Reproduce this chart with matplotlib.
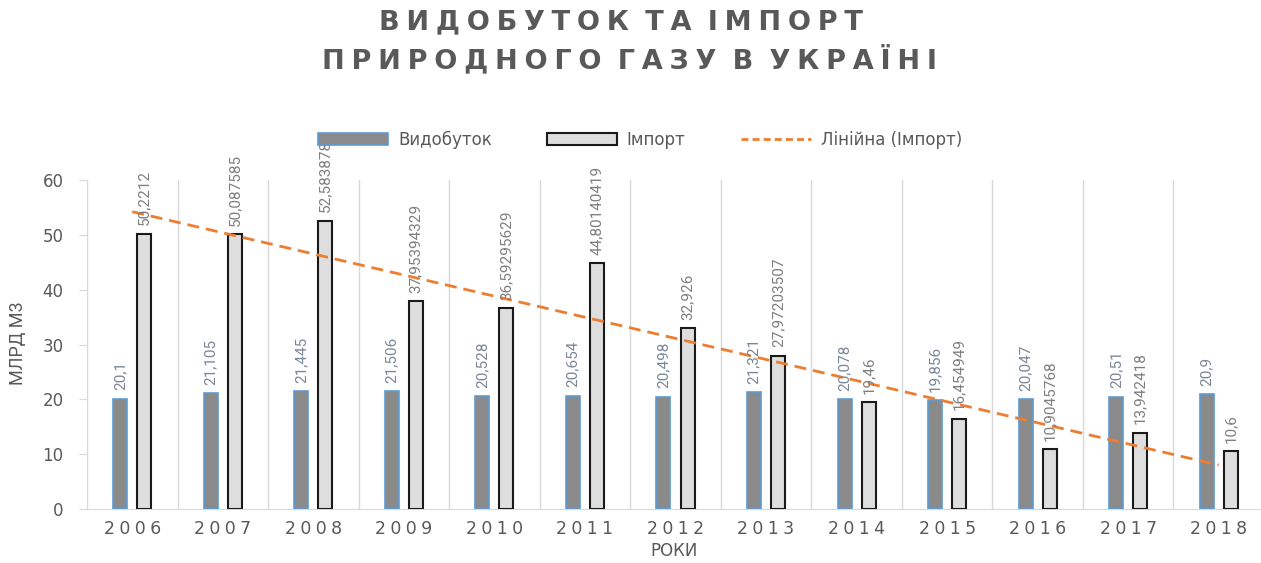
import matplotlib
matplotlib.use('Agg')
import matplotlib.pyplot as plt
import numpy as np
from matplotlib.patches import Patch
from matplotlib.lines import Line2D

years = ['2006', '2007', '2008', '2009', '2010', '2011', '2012',
         '2013', '2014', '2015', '2016', '2017', '2018']
production = [20.1, 21.105, 21.445, 21.506, 20.528, 20.654, 20.498,
              21.321, 20.078, 19.856, 20.047, 20.51, 20.9]
imports = [50.2212, 50.087585, 52.583878, 37.95394329, 36.59295629,
           44.80140419, 32.926, 27.97203507, 19.46, 16.454949,
           10.9045768, 13.942418, 10.6]
y_ticks = [0, 10, 20, 30, 40, 50, 60]

title_lines = ['ВИДОБУТОК ТА ІМПОРТ', 'ПРИРОДНОГО ГАЗУ В УКРАЇНІ']
legend_labels = ['Видобуток', 'Імпорт', 'Лінійна (Імпорт)']
y_label = 'МЛРД М3'
x_label = 'РОКИ'


def spaced(s, sep='\u2005', word_sep=' \u2005'):
    words = s.split(' ')
    return word_sep.join(sep.join(w) for w in words)


W, H = 1261, 563
fig = plt.figure(figsize=(W / 100, H / 100), dpi=100)
ax = fig.add_axes([87 / W, 1 - 509 / H, (1264 - 87) / W, (509 - 180) / H])

grey = '#595959'
label_font = ['Roboto', 'DejaVu Sans']

x = np.arange(len(years))
bw = 0.155
off = 0.133
ax.bar(x - off, production, bw, color='#8a8a8a', edgecolor='#5B9BD5',
       linewidth=1.2, zorder=3)
ax.bar(x + off, imports, bw, color='#dedede', edgecolor='#1a1a1a',
       linewidth=1.5, zorder=3)

coef = np.polyfit(x, imports, 1)
trend = np.polyval(coef, x)
ax.plot(x, trend, color='#ED7D31', linewidth=2.0, linestyle=(0, (4.3, 2.5)),
        zorder=4)

for xi, v in zip(x, production):
    ax.annotate(str(v).replace('.', ','), xy=(xi - off, v), xytext=(0, 6),
                textcoords='offset points', rotation=90, ha='center',
                va='bottom', fontsize=11, color='#7a8698', family=label_font,
                zorder=5)
for xi, v in zip(x, imports):
    ax.annotate(str(v).replace('.', ','), xy=(xi + off, v), xytext=(0, 6),
                textcoords='offset points', rotation=90, ha='center',
                va='bottom', fontsize=11, color='#7f7f7f', family=label_font,
                zorder=5)

ax.set_xlim(-0.5, len(years) - 0.5)
ax.set_ylim(0, 60)
ax.set_yticks(y_ticks)
ax.set_yticklabels([str(t) for t in y_ticks], fontsize=12, color=grey)
ax.set_xticks(x)
ax.set_xticklabels([spaced(y) for y in years], fontsize=12.5, color=grey)
ax.set_xticks(np.arange(-0.5, len(years), 1), minor=True)
ax.tick_params(axis='x', which='both', length=0, pad=8)
ax.tick_params(axis='y', length=5.8, color='#d9d9d9', pad=11)
ax.grid(which='minor', axis='x', color='#d9d9d9', linewidth=1.0, zorder=0)
for s in ['top', 'right']:
    ax.spines[s].set_visible(False)
ax.spines['left'].set_color('#d9d9d9')
ax.spines['bottom'].set_color('#d9d9d9')

fig.text(18 / W, 1 - 343 / H, y_label, rotation=90, ha='center', va='center',
         fontsize=13, color=grey, family=label_font)
fig.text(674 / W, 1 - 551 / H, x_label, ha='center', va='center',
         fontsize=12, color=grey)

fig.text(621 / W, 1 - 22 / H, spaced(title_lines[0]), ha='center',
         va='center', fontsize=19.5, fontweight='bold', color=grey)
fig.text(629 / W, 1 - 60 / H, spaced(title_lines[1]), ha='center',
         va='center', fontsize=19.5, fontweight='bold', color=grey)

handles = [Patch(facecolor='#8a8a8a', edgecolor='#5B9BD5', linewidth=1.2),
           Patch(facecolor='#dedede', edgecolor='#1a1a1a', linewidth=1.5),
           Line2D([0], [0], color='#ED7D31', linewidth=2.0,
                  linestyle=(0, (2.5, 1.5)))]
fig.legend(handles, legend_labels, loc='center',
           bbox_to_anchor=(640 / W, 1 - 140 / H), ncol=3, frameon=False,
           fontsize=12, handlelength=4.2, handleheight=0.7,
           handletextpad=0.6, columnspacing=3.3, labelcolor=grey)

fig.savefig('out.png', dpi=100)
